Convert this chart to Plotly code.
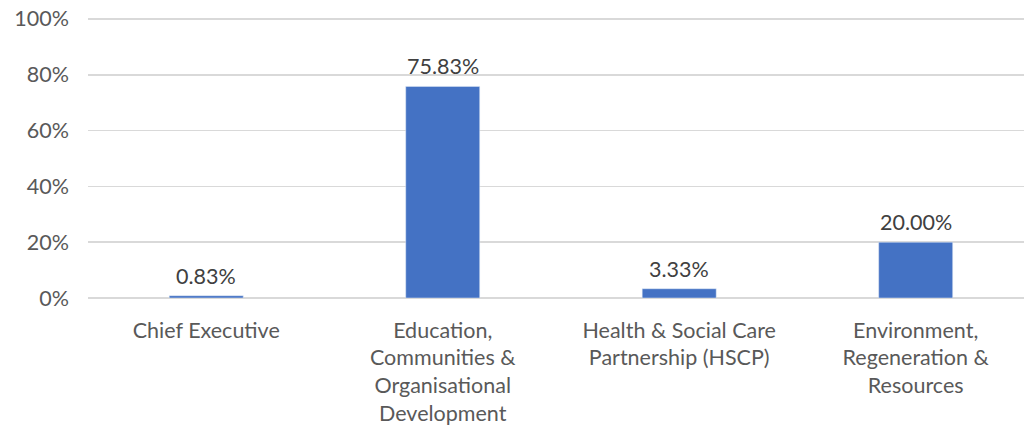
import plotly.graph_objects as go

categories = [
    "Chief Executive",
    "Education,<br>Communities &<br>Organisational<br>Development",
    "Health & Social Care<br>Partnership (HSCP)",
    "Environment,<br>Regeneration &<br>Resources",
]
values = [0.0083, 0.7583, 0.0333, 0.20]
labels = ["0.83%", "75.83%", "3.33%", "20.00%"]
y_ticks = [0, 0.2, 0.4, 0.6, 0.8, 1.0]
y_tick_labels = ["0%", "20%", "40%", "60%", "80%", "100%"]

font_family = "Lato, Liberation Sans, sans-serif"
text_color = "#595959"
fs = 21.5

fig = go.Figure(
    go.Bar(
        x=list(range(len(categories))),
        y=values,
        marker=dict(color="#4472C4"),
        hoverinfo="skip",
    )
)

for i, (v, t) in enumerate(zip(values, labels)):
    fig.add_annotation(
        x=i, y=v, text=t, showarrow=False,
        yanchor="bottom", yshift=5,
        font=dict(family=font_family, size=fs, color="#404040"),
    )

fig.update_layout(
    width=1024,
    height=436,
    margin=dict(l=88, r=0, t=17, b=138, autoexpand=False),
    paper_bgcolor="white",
    plot_bgcolor="white",
    bargap=0.687,
    showlegend=False,
    font=dict(family=font_family, size=fs, color=text_color),
)
fig.update_xaxes(
    range=[-0.5, 3.458],
    tickmode="array",
    tickvals=list(range(len(categories))),
    ticktext=categories,
    showgrid=False,
    showline=False,
    ticks="",
    automargin=False,
    ticklabelstandoff=17,
    tickfont=dict(family=font_family, size=fs, color=text_color),
)
fig.update_yaxes(
    range=[0, 1.007],
    tickmode="array",
    tickvals=y_ticks,
    ticktext=y_tick_labels,
    showgrid=True,
    gridcolor="#D9D9D9",
    gridwidth=1.5,
    zeroline=True,
    zerolinecolor="#D9D9D9",
    zerolinewidth=1.5,
    showline=False,
    ticks="",
    automargin=False,
    ticklabelstandoff=18,
    tickfont=dict(family=font_family, size=fs, color=text_color),
)

fig.write_html(
    "out.html",
    config={"displayModeBar": False, "staticPlot": True},
    post_script="document.body.style.margin='0';document.body.style.overflow='hidden';",
)
